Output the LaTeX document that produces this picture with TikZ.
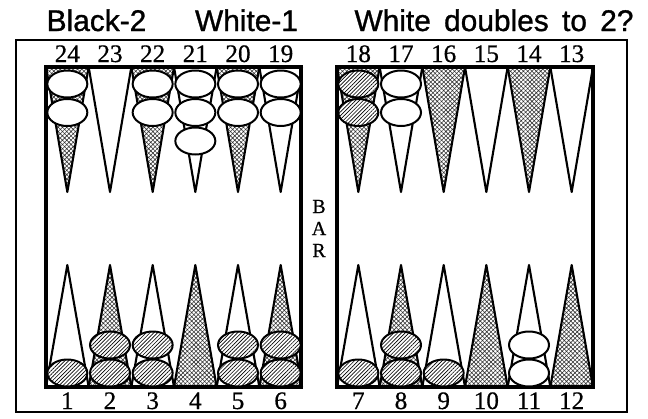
\documentclass[tikz,border=0pt]{standalone}
\usepackage{fontspec}
\setmainfont{Liberation Serif}[FakeBold=0.6]
\newfontfamily\headfont[WordSpace=1.6,FakeBold=1]{Liberation Sans}
\usetikzlibrary{patterns.meta}
\begin{document}
\begin{tikzpicture}[x=0.03cm, y=-0.03cm,
    pt/.style={line width=1.8pt, line join=round},
    dark/.style={pt, pattern={Hatch[angle=45,distance=2.6pt,line width=0.5pt]}, pattern color=black!80},
    board/.style={line width=2.6pt},
    wht/.style={line width=1.7pt, fill=white},
    blk/.style={line width=1.7pt, preaction={fill=white}, pattern={Lines[angle=45,distance=2.3pt,line width=0.55pt]}},
    num/.style={font=\fontsize{21.5}{21.5}\selectfont, anchor=base},
    bar/.style={font=\fontsize{17}{17}\selectfont, anchor=base},
    head/.style={font=\headfont\fontsize{25.5}{25.5}\selectfont, anchor=base}]
  \useasboundingbox (0,0) rectangle (648,418);
  \node[head] (black) at (96.5,31) {Black-2};
  \node[head] (white) at (246.5,31) {White-1};
  \node[head] (cube) at (494,31) {White doubles to 2?};
  \draw[line width=1.6pt] (16,40) rectangle (627,412);
  % points, two at a time
  \foreach \c in {0,2,...,10} {
    \pgfmathsetmacro\xl{46+42.667*\c+35*(\c>5)}
    \pgfmathsetmacro\xr{\xl+42.667}
    \filldraw[dark] (\xl,67) -- ++(42.667,0) -- ++(-21.333,125) -- cycle;
    \draw[pt] (\xr,67) -- ++(42.667,0) -- ++(-21.333,125) -- cycle;
    \draw[pt] (\xl,387) -- ++(42.667,0) -- ++(-21.333,-122) -- cycle;
    \filldraw[dark] (\xr,387) -- ++(42.667,0) -- ++(-21.333,-122) -- cycle;
  }
  \draw[board] (46,67) rectangle (301,387);
  \draw[board] (337,67) rectangle (593,387);
  % point numbers
  \foreach \c in {0,...,11} {
    \pgfmathsetmacro\xm{67.33+42.667*\c+35*(\c>5)}
    \pgfmathtruncatemacro\tn{24-\c}
    \pgfmathtruncatemacro\bn{\c+1}
    \node[num] (p\tn) at (\xm,62) {\tn};
    \node[num] (p\bn) at (\xm,409) {\bn};
  }
  \node[bar] (b) at (319,213) {B};
  \node[bar] (a) at (319,235) {A};
  \node[bar] (r) at (319,257) {R};
  % checkers, upper half
  \foreach \c/\k/\s in {0/0/wht,0/1/wht,2/0/wht,2/1/wht,3/0/wht,3/1/wht,3/2/wht,
      4/0/wht,4/1/wht,5/0/wht,5/1/wht,6/0/blk,6/1/blk,7/0/wht,7/1/wht}
    \filldraw[\s] ({67.33+42.667*\c+35*(\c>5)},{84+28.5*\k}) ellipse [x radius=20, y radius=13.5];
  % checkers, lower half
  \foreach \c/\k/\s in {0/0/blk,1/0/blk,1/1/blk,2/0/blk,2/1/blk,4/0/blk,4/1/blk,
      5/0/blk,5/1/blk,6/0/blk,7/0/blk,7/1/blk,8/0/blk,10/0/wht,10/1/wht}
    \filldraw[\s] ({67.33+42.667*\c+35*(\c>5)},{373-28*\k}) ellipse [x radius=20, y radius=13.5];
\end{tikzpicture}
\end{document}
